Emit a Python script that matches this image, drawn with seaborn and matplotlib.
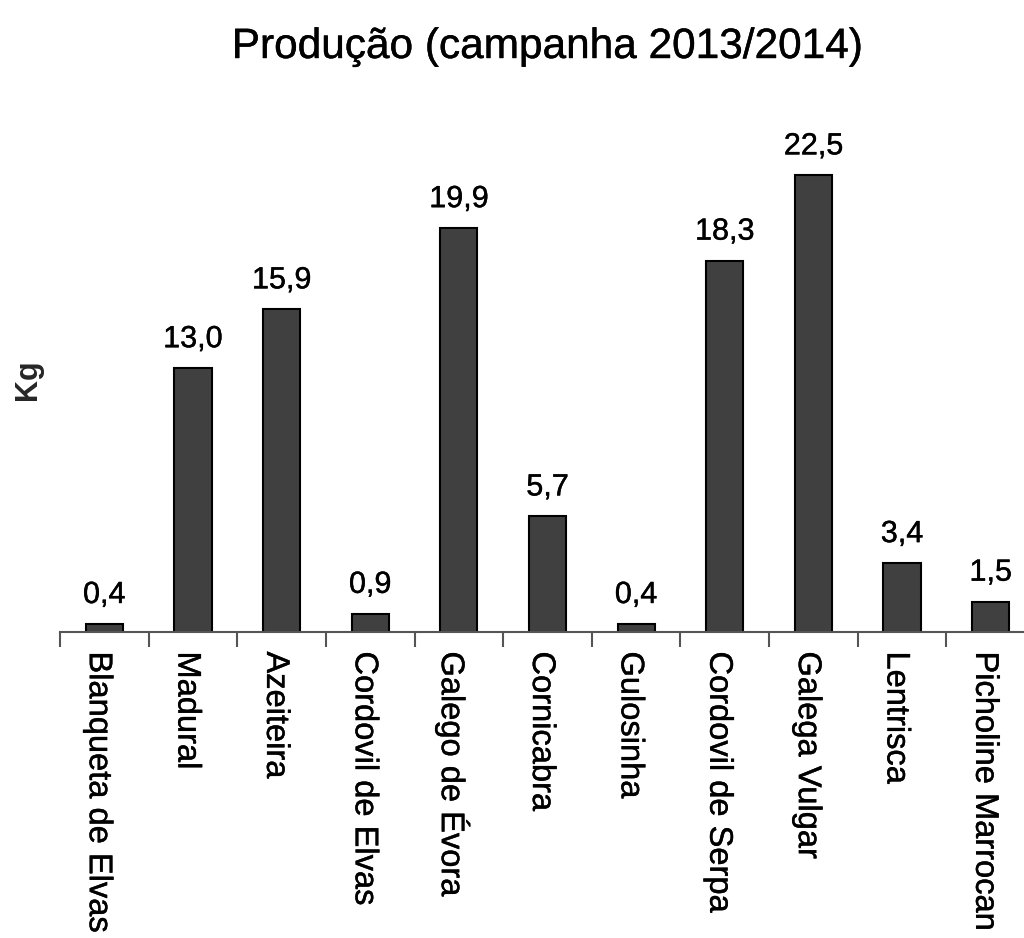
import matplotlib
matplotlib.use("Agg")
import matplotlib.pyplot as plt
import matplotlib.patheffects as pe
from matplotlib.ticker import FixedLocator
from matplotlib.transforms import ScaledTranslation
import seaborn as sns
import pandas as pd

varieties = ["Blanqueta de Elvas", "Madural", "Azeiteira", "Cordovil de Elvas",
             "Galego de Évora", "Cornicabra", "Gulosinha", "Cordovil de Serpa",
             "Galega Vulgar", "Lentrisca", "Picholine Marrocan"]
production_kg = [0.4, 13.0, 15.9, 0.9, 19.9, 5.7, 0.4, 18.3, 22.5, 3.4, 1.5]

df = pd.DataFrame({"variedade": varieties, "kg": production_kg})

sns.set_theme(style="white")
plt.rcParams["font.family"] = ["Liberation Sans", "DejaVu Sans"]

# slightly heavier strokes for all text
thick = [pe.withStroke(linewidth=0.3, foreground="black")]

fig = plt.figure(figsize=(10.24, 9.38), dpi=100)
ax = fig.add_axes([60 / 1024, 306 / 938, 975 / 1024, 507.5 / 938])

sns.barplot(data=df, x="variedade", y="kg", color="#404040", width=0.42,
            edgecolor="black", linewidth=1.5, saturation=1, ax=ax)

value_texts = ax.bar_label(ax.containers[0],
                           labels=[f"{v:.1f}".replace(".", ",") for v in production_kg],
                           padding=10, fontsize=22, color="black")
for t in value_texts:
    t.set_path_effects(thick)

ax.set_xlim(-0.5, len(varieties) - 0.5)
ax.set_ylim(0, 25)

for side in ("top", "right", "left"):
    ax.spines[side].set_visible(False)
ax.spines["bottom"].set_color("#555555")
ax.spines["bottom"].set_linewidth(1.5)

ax.set_yticks([])
ax.set_xticks(range(len(varieties)))
ax.set_xticklabels(varieties, rotation=270, fontsize=23.5, color="black",
                   va="top", ha="center")
ax.tick_params(axis="x", which="major", length=0, pad=14)
shift = ScaledTranslation(-6 / 100, 0, fig.dpi_scale_trans)
for lbl in ax.get_xticklabels():
    lbl.set_transform(lbl.get_transform() + shift)
    lbl.set_path_effects(thick)
ax.xaxis.set_minor_locator(FixedLocator([i - 0.5 for i in range(len(varieties) + 1)]))
ax.tick_params(axis="x", which="minor", length=11, width=1.5, color="#555555",
               direction="out", bottom=True)

ax.set_xlabel("")
ax.set_ylabel("")
fig.text(28 / 1024, 1 - 380 / 938, "Kg", rotation=90, fontsize=22,
         fontweight="bold", ha="center", va="center")
fig.text(547 / 1024, 1 - 47 / 938, "Produção (campanha 2013/2014)",
         fontsize=30.5, ha="center", va="center", color="black",
         path_effects=thick)

fig.savefig("out.png", dpi=100)
